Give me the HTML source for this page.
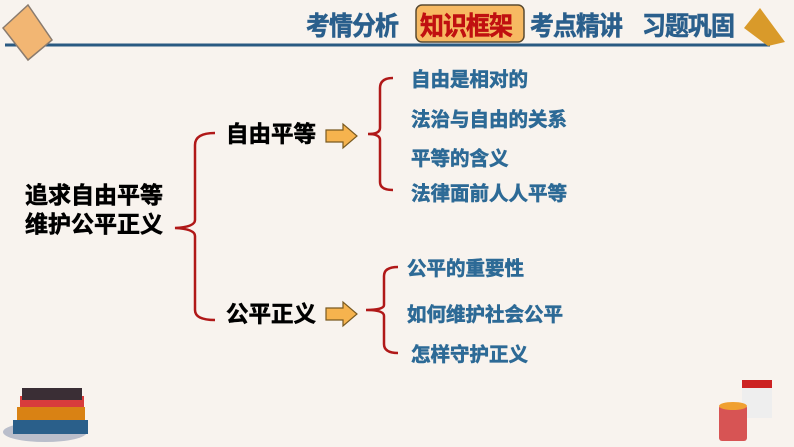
<!DOCTYPE html>
<html><head><meta charset="utf-8"><style>
body{margin:0;width:794px;height:447px;background:#f8f3ee;position:relative;overflow:hidden;font-family:"Liberation Sans","Noto Sans CJK SC",sans-serif;}
.t{position:absolute;white-space:nowrap;font-weight:bold;-webkit-text-stroke:0.6px currentColor;}
.h{font-size:26px;color:#2a5f8c;top:6px;letter-spacing:-1px;transform:scaleX(0.92);transform-origin:left top}
.s{font-size:19.5px;color:#2d6a96;}
.m{font-size:22.5px;color:#000;}
</style></head><body>
<svg width="794" height="447" style="position:absolute;left:0;top:0">
<line x1="5" y1="45" x2="770" y2="45" stroke="#2a5a82" stroke-width="3"/>
<polygon points="3,28 28,5 52,40 28,60" fill="#f2b673" stroke="#8a7b6e" stroke-width="1.5"/>
<path d="M760,8 L744,28 L768,46 L785,42 Z" fill="#d99a2a"/>
<rect x="416" y="5" width="108" height="37" rx="6" fill="#f7b962" stroke="#5a4a30" stroke-width="1.5"/>
<g fill="none" stroke="#b01818" stroke-width="2.5">
<path d="M215,133 Q195,133 195,145 L195,220 Q195,227 175,228 Q195,229 195,236 L195,310 Q195,320 215,320"/>
<path d="M393,78 Q380,78 380,88 L380,128 Q380,134 368,134 Q380,134 380,140 L380,182 Q380,190 393,190"/>
<path d="M398,267 Q384,267 384,276 L384,305 Q384,310 366,310 Q384,310 384,316 L384,344 Q384,353 398,353"/>
</g>
<g fill="#f6b34e" stroke="#7a5a20" stroke-width="1.2">
<polygon points="326,130 343,130 343,124 357,136 343,148 343,142 326,142"/>
<polygon points="326,308 343,308 343,302 357,314 343,326 343,320 326,320"/>
</g>
<g>
<ellipse cx="45" cy="432" rx="42" ry="10" fill="#7b8aa8" opacity="0.5"/>
<rect x="13" y="420" width="75" height="14" fill="#2a5f8a"/>
<rect x="17" y="407" width="68" height="13" fill="#d98214"/>
<rect x="20" y="396" width="64" height="11" fill="#d83c3c"/>
<rect x="22" y="388" width="60" height="12" fill="#3a2e35"/>
<rect x="742" y="386" width="30" height="32" fill="#eee"/>
<rect x="742" y="380" width="30" height="8" fill="#cc2222"/>
<rect x="719" y="405" width="28" height="36" rx="3" fill="#d75454"/>
<ellipse cx="733" cy="406" rx="14" ry="4" fill="#f0a030"/>
</g>
</svg>
<div class="t h" style="left:306px">考情分析</div>
<div class="t h" style="left:420px;color:#c01010">知识框架</div>
<div class="t h" style="left:530px">考点精讲</div>
<div class="t h" style="left:642px">习题巩固</div>
<div class="t m" style="left:25px;top:181px;font-size:23px;line-height:29px;color:#000">追求自由平等<br>维护公平正义</div>
<div class="t m" style="left:226px;top:117px">自由平等</div>
<div class="t m" style="left:226px;top:297px">公平正义</div>
<div class="t s" style="left:411px;top:63px">自由是相对的</div>
<div class="t s" style="left:411px;top:103px">法治与自由的关系</div>
<div class="t s" style="left:411px;top:142px">平等的含义</div>
<div class="t s" style="left:411px;top:177px">法律面前人人平等</div>
<div class="t s" style="left:407px;top:252px">公平的重要性</div>
<div class="t s" style="left:407px;top:298px">如何维护社会公平</div>
<div class="t s" style="left:411px;top:338px">怎样守护正义</div>
</body></html>
